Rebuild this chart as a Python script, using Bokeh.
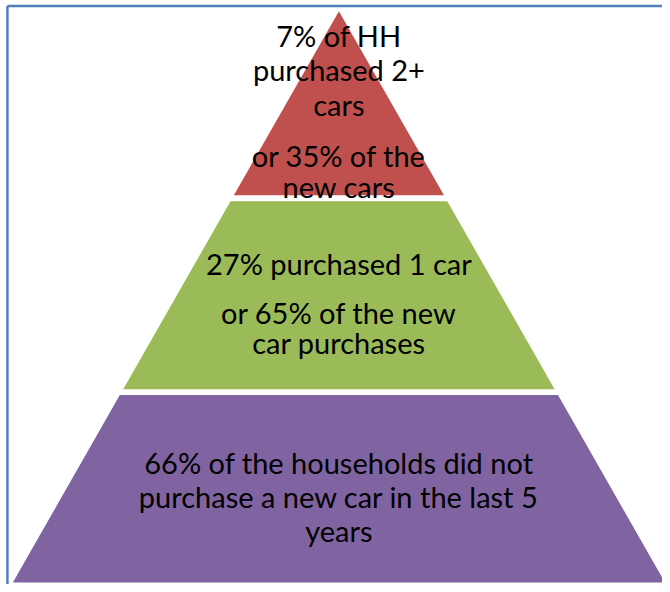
from bokeh.plotting import figure
from bokeh.models import Range1d, ColumnDataSource
from bokeh.core.properties import value
from bokeh.embed import file_html
from bokeh.resources import INLINE

# ---- data ----
tiers = ["2+ cars", "1 car", "no new car"]
hh_share = [7, 27, 66]          # % of households
new_car_share = [35, 65, None]  # % of new car purchases
tier_colors = ["#C0504D", "#9BBB59", "#8064A2"]

tier_lines = [
    [f"{hh_share[0]}% of HH", "purchased 2+", "cars",
     f"or {new_car_share[0]}% of the", "new cars"],
    [f"{hh_share[1]}% purchased 1 car",
     f"or {new_car_share[1]}% of the new", "car purchases"],
    [f"{hh_share[2]}% of the households did not",
     "purchase a new car in the last 5", "years"],
]

# ---- layout (reference pixel coordinates) ----
CX = 342.5
APEX_Y = 11
SLOPE = 0.57
tier_y = [(11, 197.5), (203.5, 394), (400, 590)]
line_baselines = [
    [35, 70, 105, 157, 188.5],
    [267, 316, 347],
    [468, 503, 537],
]
FONT = "Lato"
FONT_SIZE = "29px"

W, H = 662, 584
p = figure(width=W, height=H, x_range=Range1d(0, 670), y_range=Range1d(592, 0),
           output_backend="svg", toolbar_location=None, min_border=0)
p.axis.visible = False
p.grid.visible = False
p.outline_line_color = None
p.background_fill_color = "white"
p.border_fill_color = "white"

xs, ys = [], []
for (y0, y1) in tier_y:
    h0 = (y0 - APEX_Y) * SLOPE
    h1 = (y1 - APEX_Y) * SLOPE
    xs.append([CX - h0, CX + h0, CX + h1, CX - h1])
    ys.append([y0, y0, y1, y1])
p.patches(xs=xs, ys=ys, fill_color=tier_colors, line_color=None)

tx, ty, tt = [], [], []
for lines, bases in zip(tier_lines, line_baselines):
    for t, b in zip(lines, bases):
        tx.append(CX)
        ty.append(b)
        tt.append(t)
src = ColumnDataSource(dict(x=tx, y=ty, text=tt))
p.text(x="x", y="y", text="text", source=src, text_align="center",
       text_baseline="alphabetic", text_font=value(FONT),
       text_font_size=FONT_SIZE, text_color="black")

# frame lines (top & left)
p.line(x=[7, 7], y=[592, 5.5], line_color="#4F81BD", line_width=2.5)
p.line(x=[7, 670], y=[5.5, 5.5], line_color="#4F81BD", line_width=2.5)

open("out.html", "w").write(file_html(p, INLINE))
